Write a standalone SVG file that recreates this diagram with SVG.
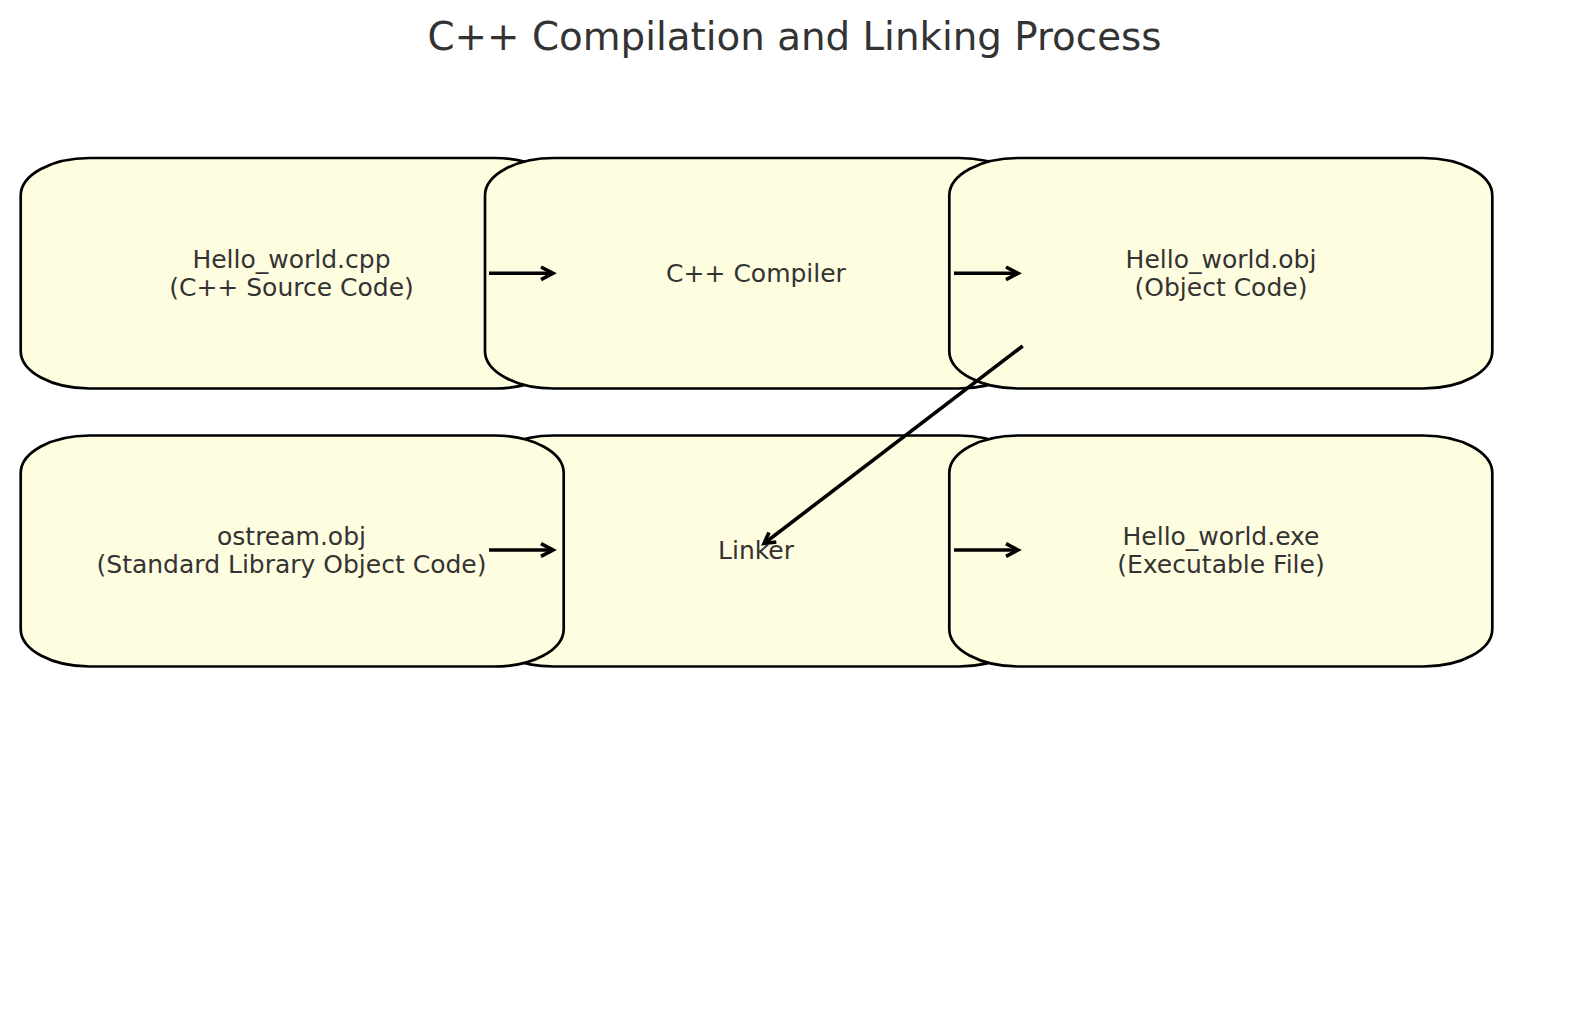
<svg xmlns="http://www.w3.org/2000/svg" width="1589" height="1010" viewBox="0 0 1589 1010">
<style>
.box{fill:#FFFDE0;stroke:#000;stroke-width:2.7}
.lbl{font-family:"DejaVu Sans",sans-serif;font-size:25px;fill:#333;text-anchor:middle}
.title{font-family:"DejaVu Sans",sans-serif;font-size:38.8px;fill:#333;text-anchor:middle}
.edge{fill:none;stroke:#000;stroke-width:3.6;stroke-linejoin:miter}
</style>
<rect width="1589" height="1010" fill="#fff"/>
<text class="title" x="794.5" y="50">C++ Compilation and Linking Process</text>
<g id="n_cpp">
<path class="box" d="M89.7,158 H494.7 A69,37.5 0 0 1 563.7,195.5 V351 A69,37.5 0 0 1 494.7,388.5 H89.7 A69,37.5 0 0 1 20.7,351 V195.5 A69,37.5 0 0 1 89.7,158 Z"/>
<text class="lbl" x="291.5" y="267.7">Hello_world.cpp</text>
<text class="lbl" x="291.5" y="296">(C++ Source Code)</text>
</g>
<g id="n_compiler">
<path class="box" d="M554,158 H959 A69,37.5 0 0 1 1028,195.5 V351 A69,37.5 0 0 1 959,388.5 H554 A69,37.5 0 0 1 485,351 V195.5 A69,37.5 0 0 1 554,158 Z"/>
<text class="lbl" x="756" y="281.7">C++ Compiler</text>
</g>
<g id="n_obj">
<path class="box" d="M1018.3,158 H1423.3 A69,37.5 0 0 1 1492.3,195.5 V351 A69,37.5 0 0 1 1423.3,388.5 H1018.3 A69,37.5 0 0 1 949.3,351 V195.5 A69,37.5 0 0 1 1018.3,158 Z"/>
<text class="lbl" x="1221" y="267.7">Hello_world.obj</text>
<text class="lbl" x="1221" y="296">(Object Code)</text>
</g>
<g id="n_linker">
<path class="box" d="M554,435.5 H959 A69,37.5 0 0 1 1028,473 V629 A69,37.5 0 0 1 959,666.5 H554 A69,37.5 0 0 1 485,629 V473 A69,37.5 0 0 1 554,435.5 Z"/>
<text class="lbl" x="756" y="558.5">Linker</text>
</g>
<g id="n_ostream">
<path class="box" d="M89.7,435.5 H494.7 A69,37.5 0 0 1 563.7,473 V629 A69,37.5 0 0 1 494.7,666.5 H89.7 A69,37.5 0 0 1 20.7,629 V473 A69,37.5 0 0 1 89.7,435.5 Z"/>
<text class="lbl" x="291.5" y="545">ostream.obj</text>
<text class="lbl" x="291.5" y="573.3">(Standard Library Object Code)</text>
</g>
<g id="n_exe">
<path class="box" d="M1018.3,435.5 H1423.3 A69,37.5 0 0 1 1492.3,473 V629 A69,37.5 0 0 1 1423.3,666.5 H1018.3 A69,37.5 0 0 1 949.3,629 V473 A69,37.5 0 0 1 1018.3,435.5 Z"/>
<text class="lbl" x="1221" y="545">Hello_world.exe</text>
<text class="lbl" x="1221" y="573.3">(Executable File)</text>
</g>
<g id="connectors">
<path class="edge" d="M489,273.3 H553"/>
<path class="edge" d="M541,267 L553,273.3 L541,279.6"/>
<path class="edge" d="M954,273.3 H1018"/>
<path class="edge" d="M1006,267 L1018,273.3 L1006,279.6"/>
<path class="edge" d="M489,550 H553"/>
<path class="edge" d="M541,543.7 L553,550 L541,556.3"/>
<path class="edge" d="M954,550 H1018"/>
<path class="edge" d="M1006,543.7 L1018,550 L1006,556.3"/>
<path class="edge" d="M1022.7,346 L764,543.5"/>
<path class="edge" d="M769,532.5 L764,543.5 L776.3,542"/>
</g>
</svg>
